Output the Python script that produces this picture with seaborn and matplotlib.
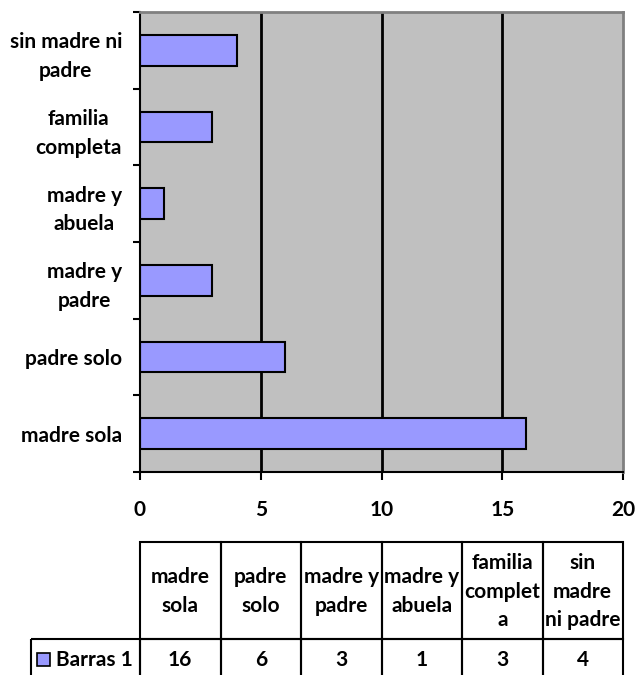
import matplotlib.pyplot as plt
import pandas as pd
import seaborn as sns
from matplotlib.patches import Rectangle

# chart data
categories = ["madre sola", "padre solo", "madre y padre", "madre y abuela", "familia completa", "sin madre ni padre"]
values = [16, 6, 3, 1, 3, 4]
axis_labels = ["madre sola", "padre solo", "madre y\npadre", "madre y\nabuela", "familia\ncompleta", "sin madre ni\npadre"]
table_labels = ["madre\nsola", "padre\nsolo", "madre y\npadre", "madre y\nabuela", "familia\ncomplet\na", "sin\nmadre\nni padre"]
series_name = "Barras 1"
x_ticks = [0, 5, 10, 15, 20]

df = pd.DataFrame({"cat": categories, "val": values})
order = categories[::-1]

plt.rcParams["font.family"] = ["Lato", "DejaVu Sans"]
plt.rcParams["font.weight"] = "bold"
FS = 15

W, H = 636, 675
fig = plt.figure(figsize=(W / 100, H / 100), dpi=100)
ax = fig.add_axes([140 / W, 1 - 472 / H, (623 - 140) / W, (472 - 12) / H])

sns.barplot(data=df, x="val", y="cat", order=order, orient="h", color="#9999FF",
            saturation=1, edgecolor="black", linewidth=1.5, width=0.4, ax=ax)

ax.set_facecolor("#C0C0C0")
ax.set_xlim(0, 20)
ax.set_ylim(5.5, -0.5)
ax.set(xlabel=None, ylabel=None)
for v in x_ticks[1:-1]:
    ax.axvline(v, color="black", lw=2, zorder=0.8)

for s in ["left", "bottom"]:
    ax.spines[s].set_color("black")
    ax.spines[s].set_linewidth(1.5)
for s in ["top", "right"]:
    ax.spines[s].set_color("#808080")
    ax.spines[s].set_linewidth(2)

ax.set_xticks(x_ticks)
ax.set_xticklabels([str(t) for t in x_ticks], fontsize=FS, fontweight="bold")
ax.tick_params(axis="x", direction="out", length=6, width=1.5, pad=14)

ax.set_yticks([i - 0.5 for i in range(7)])
ax.set_yticklabels([])
ax.tick_params(axis="y", which="major", direction="out", length=5, width=1.5)
ax.set_yticks(range(len(order)), labels=axis_labels[::-1], minor=True)
ax.tick_params(axis="y", which="minor", length=0, pad=13)
for t in ax.get_yticklabels(minor=True):
    t.set_fontsize(FS)
    t.set_fontweight("bold")
    t.set_multialignment("center")
    t.set_linespacing(1.55)

# data table under the chart
tax = fig.add_axes([0, 0, 1, 1], zorder=-1)
tax.set_xlim(0, W)
tax.set_ylim(H, 0)
tax.axis("off")
col_w = (623 - 140) / len(categories)
top, mid, bot = 542, 639, 685
for i, (lab, val) in enumerate(zip(table_labels, values)):
    x0 = 140 + i * col_w
    tax.add_patch(Rectangle((x0, top), col_w, mid - top, fill=False, ec="black", lw=1.5))
    tax.add_patch(Rectangle((x0, mid), col_w, bot - mid, fill=False, ec="black", lw=1.5))
    tax.text(x0 + col_w / 2, (top + mid) / 2 + 1, lab, ha="center", va="center",
             fontsize=FS, fontweight="bold", linespacing=1.55)
    tax.text(x0 + col_w / 2, 660, str(val), ha="center", va="center",
             fontsize=FS, fontweight="bold")
tax.add_patch(Rectangle((31, mid), 109, bot - mid, fill=False, ec="black", lw=1.5))
tax.add_patch(Rectangle((37, 653), 13, 13, fc="#9999FF", ec="black", lw=1.2))
tax.text(56, 660, series_name, ha="left", va="center", fontsize=FS, fontweight="bold")

fig.savefig("out.png", dpi=100)
plt.clf()
